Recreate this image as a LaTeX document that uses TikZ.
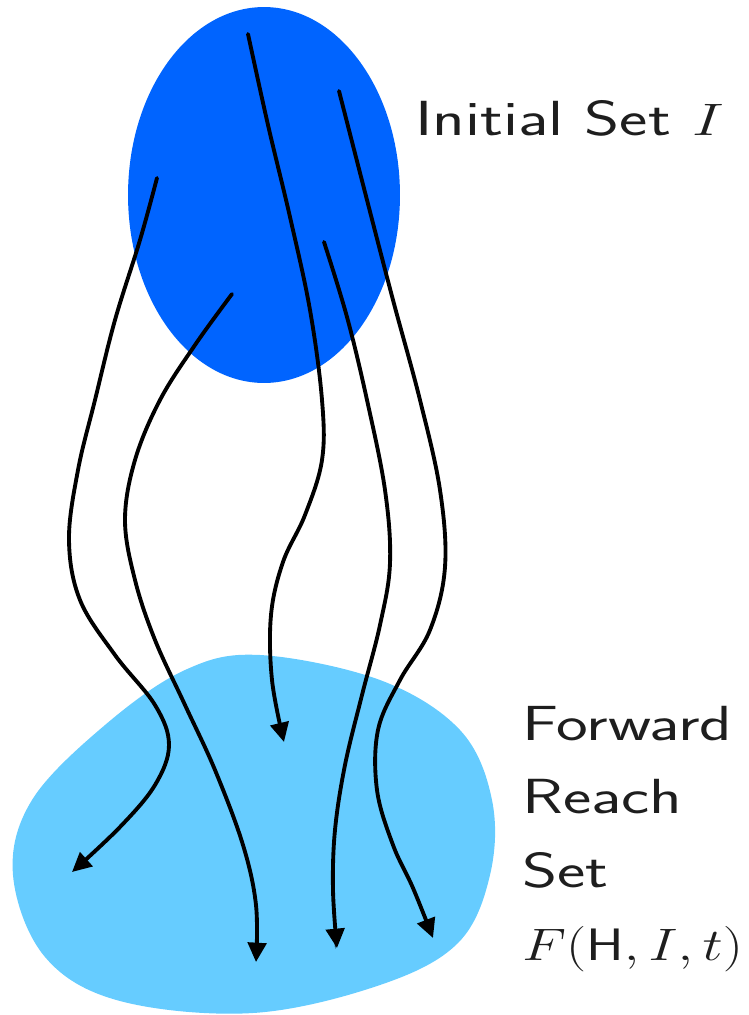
\documentclass[tikz,border=0pt]{standalone}
\usetikzlibrary{arrows.meta,shapes.geometric}
\definecolor{darkset}{RGB}{0,100,255}
\definecolor{lightset}{RGB}{102,204,255}
\definecolor{txt}{RGB}{30,30,30}
\newcommand{\widetxt}[2][1.42]{\scalebox{#1}[1.04]{#2}}
\begin{document}
\begin{tikzpicture}[x=0.02cm,y=-0.02cm,
  traj/.style={line width=2.2pt,black,line cap=round,-{Triangle[length=11pt,width=10.5pt]}},
  lbl/.style={anchor=base west,inner sep=0pt,text=txt,font=\fontsize{27}{32}\selectfont\sffamily}]
\useasboundingbox (0,0) rectangle (748,1015);
% forward reach set blob
\fill[lightset] plot[smooth cycle,tension=0.6] coordinates{
 (260,655) (380,680) (460,730) (492,800) (490,875) (458,943) (380,985)
 (253,1013) (120,1001) (45,957) (13,875) (32,800) (105,725) (185,670)};
% initial set
\node[ellipse,fill=darkset,inner sep=0pt,
  minimum width=5.44cm,minimum height=7.52cm] (init) at (264,195) {};
% trajectory endpoints
\coordinate (s1) at (157,178); \coordinate (e1) at (72,872);
\coordinate (s2) at (232,294); \coordinate (e2) at (256,962);
\coordinate (s3) at (248,34);  \coordinate (e3) at (284,742);
\coordinate (s4) at (324,242); \coordinate (e4) at (337,948);
\coordinate (s5) at (339,91);  \coordinate (e5) at (433,938);
\draw[traj] plot[smooth,tension=0.6] coordinates{(s1) (140,240) (115,320) (95,400)
  (78,470) (69,540) (80,600) (115,655) (155,705) (169,745) (155,785) (120,827) (e1)};
\draw[traj] plot[smooth,tension=0.6] coordinates{(s2) (195,345) (160,400) (135,460)
  (125,520) (135,580) (155,640) (185,705) (215,770) (243,845) (256,905) (e2)};
\draw[traj] plot[smooth,tension=0.6] coordinates{(s3) (268,125) (290,217) (310,310)
  (322,400) (322,460) (305,515) (283,562) (271,615) (272,680) (e3)};
\draw[traj] plot[smooth,tension=0.6] coordinates{(s4) (347,317) (367,400) (385,490)
  (390,563) (380,625) (362,695) (345,765) (335,830) (333,890) (e4)};
\draw[traj] plot[smooth,tension=0.6] coordinates{(s5) (367,200) (393,300) (420,400)
  (440,490) (445,567) (430,630) (400,680) (378,730) (377,790) (393,845) (413,888) (e5)};
% labels
\node[lbl] (tinit) at (415,135) {\widetxt{Initial Set $I$}};
\node[lbl] (t1) at (522,740) {\widetxt{Forward}};
\node[lbl] (t2) at (522,813) {\widetxt{Reach}};
\node[lbl] (t3) at (522,887) {\widetxt{Set}};
\node[lbl] (t4) at (522,960) {\widetxt[1.30]{$F(\mathsf{H},I,t)$}};
\end{tikzpicture}
\end{document}
